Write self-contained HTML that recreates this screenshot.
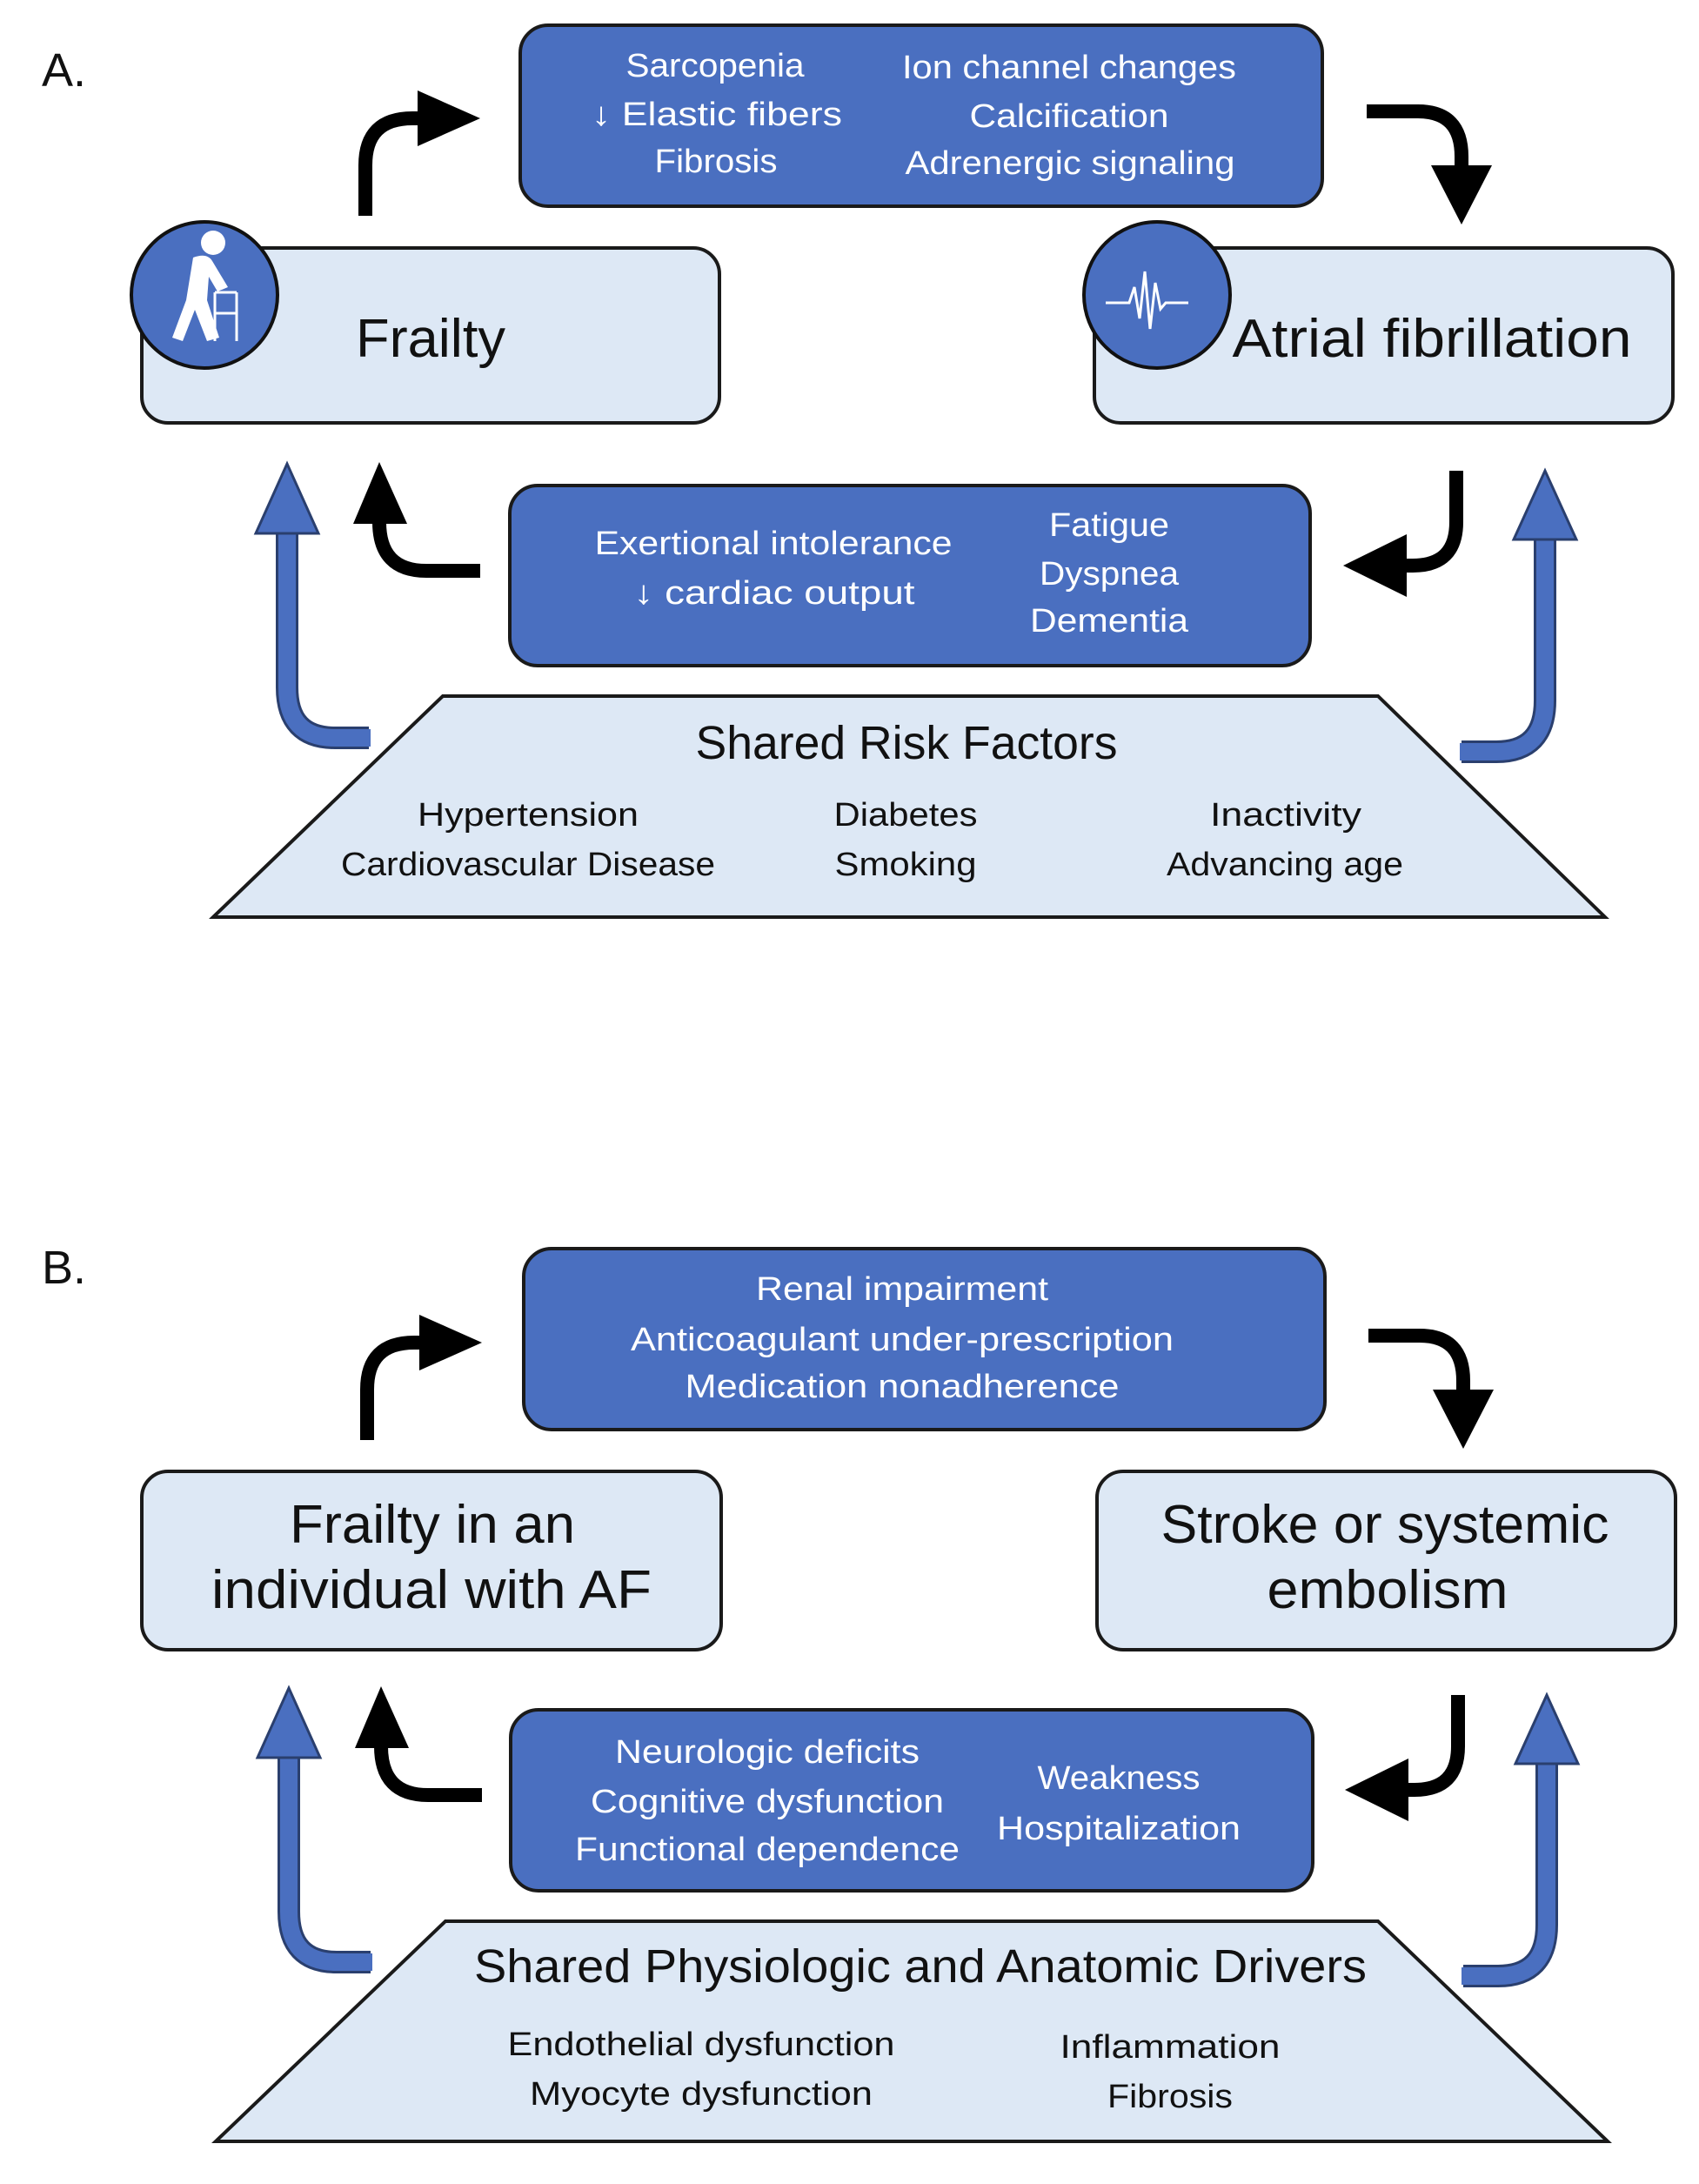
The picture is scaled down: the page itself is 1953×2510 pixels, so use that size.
<!DOCTYPE html>
<html><head><meta charset="utf-8"><style>
html,body{margin:0;padding:0;background:#fff;}
svg{display:block;}
text{font-family:"Liberation Sans",sans-serif;}
.w{fill:#fff;font-size:38px;}
.k{fill:#111;font-size:38px;}
.big{fill:#111;font-size:62px;}
</style></head><body>
<svg width="1953" height="2510" viewBox="0 0 1953 2510" xmlns="http://www.w3.org/2000/svg">
<defs>
<g id="arrows">
  <!-- top-left black -->
  <path d="M420 248 V190 Q420 136 474 136 H486" fill="none" stroke="#000" stroke-width="16"/>
  <polygon points="480,104 480,168 552,136" fill="#000"/>
  <!-- top-right black -->
  <path d="M1571 128 H1630 Q1680 128 1680 180 V195" fill="none" stroke="#000" stroke-width="16"/>
  <polygon points="1645,190 1715,190 1680,258" fill="#000"/>
  <!-- middle-left black -->
  <path d="M552 656 H490 Q436 656 436 600 V595" fill="none" stroke="#000" stroke-width="16"/>
  <polygon points="406,602 468,602 436,531" fill="#000"/>
  <!-- middle-right black -->
  <path d="M1674 541 V600 Q1674 650 1624 650 H1612" fill="none" stroke="#000" stroke-width="16"/>
  <polygon points="1617,614 1617,686 1544,650" fill="#000"/>
  <!-- left blue -->
  <path d="M424 848 H385 Q330 848 330 790 V608" fill="none" stroke="#2a3f6e" stroke-width="26"/>
  <path d="M426 848 H385 Q330 848 330 790 V606" fill="none" stroke="#4a6fc0" stroke-width="20"/>
  <polygon points="294,613 366,613 330,533" fill="#4a6fc0" stroke="#2a3f6e" stroke-width="3"/>
  <!-- right blue -->
  <path d="M1680 864 H1720 Q1776 864 1776 805 V618" fill="none" stroke="#2a3f6e" stroke-width="26"/>
  <path d="M1678 864 H1720 Q1776 864 1776 805 V616" fill="none" stroke="#4a6fc0" stroke-width="20"/>
  <polygon points="1740,620 1812,620 1776,541" fill="#4a6fc0" stroke="#2a3f6e" stroke-width="3"/>
</g>
</defs>

<!-- ============ PANEL A ============ -->
<text x="48" y="99" style="font-size:54px;fill:#111">A.</text>
<rect x="598" y="29" width="922" height="208" rx="32" fill="#4a6fc0" stroke="#1a1a1a" stroke-width="4"/>
<text class="w" x="822" y="88" text-anchor="middle" textLength="205" lengthAdjust="spacingAndGlyphs">Sarcopenia</text>
<text class="w" x="824" y="144" text-anchor="middle" textLength="288" lengthAdjust="spacingAndGlyphs">↓ Elastic fibers</text>
<text class="w" x="823" y="198" text-anchor="middle" textLength="141" lengthAdjust="spacingAndGlyphs">Fibrosis</text>
<text class="w" x="1229" y="90" text-anchor="middle" textLength="384" lengthAdjust="spacingAndGlyphs">Ion channel changes</text>
<text class="w" x="1229" y="146" text-anchor="middle" textLength="229" lengthAdjust="spacingAndGlyphs">Calcification</text>
<text class="w" x="1230" y="200" text-anchor="middle" textLength="379" lengthAdjust="spacingAndGlyphs">Adrenergic signaling</text>

<rect x="163" y="285" width="664" height="201" rx="30" fill="#dde8f5" stroke="#1a1a1a" stroke-width="4"/>
<text class="big" x="495" y="410" text-anchor="middle" textLength="172" lengthAdjust="spacingAndGlyphs">Frailty</text>
<circle cx="235" cy="339" r="84" fill="#4a6fc0" stroke="#111" stroke-width="4"/>
<!-- walker icon -->
<g fill="#fff" stroke="#fff">
  <circle cx="245" cy="279" r="14" stroke="none"/>
  <path d="M222 296 Q238 290 244 300 L262 330 L250 335 L240 318 L238 345 L252 388 L238 392 L224 356 L210 392 L198 388 L214 345 Z" stroke="none"/>
  <path d="M247 336 H272 M247 336 V392 M272 336 V392 M247 360 H272" fill="none" stroke-width="3"/>
</g>

<rect x="1258" y="285" width="665" height="201" rx="30" fill="#dde8f5" stroke="#1a1a1a" stroke-width="4"/>
<circle cx="1330" cy="339" r="84" fill="#4a6fc0" stroke="#111" stroke-width="4"/>
<polyline points="1271,348 1298,348 1304,330 1310,366 1316,312 1322,378 1328,325 1334,355 1340,348 1366,348" fill="none" stroke="#fff" stroke-width="3"/>
<text class="big" x="1646" y="410" text-anchor="middle" textLength="459" lengthAdjust="spacingAndGlyphs">Atrial fibrillation</text>

<rect x="586" y="558" width="920" height="207" rx="32" fill="#4a6fc0" stroke="#1a1a1a" stroke-width="4"/>
<text class="w" x="889" y="637" text-anchor="middle" textLength="411" lengthAdjust="spacingAndGlyphs">Exertional intolerance</text>
<text class="w" x="890" y="694" text-anchor="middle" textLength="323" lengthAdjust="spacingAndGlyphs">↓ cardiac output</text>
<text class="w" x="1275" y="616" text-anchor="middle" textLength="138" lengthAdjust="spacingAndGlyphs">Fatigue</text>
<text class="w" x="1275" y="672" text-anchor="middle" textLength="160" lengthAdjust="spacingAndGlyphs">Dyspnea</text>
<text class="w" x="1275" y="726" text-anchor="middle" textLength="182" lengthAdjust="spacingAndGlyphs">Dementia</text>

<polygon points="509,800 1584,800 1845,1054 245,1054" fill="#dde8f5" stroke="#1a1a1a" stroke-width="4"/>
<text class="k" style="font-size:54px" x="1042" y="872" text-anchor="middle" textLength="485" lengthAdjust="spacingAndGlyphs">Shared Risk Factors</text>
<text class="k" x="607" y="949" text-anchor="middle" textLength="254" lengthAdjust="spacingAndGlyphs">Hypertension</text>
<text class="k" x="607" y="1006" text-anchor="middle" textLength="430" lengthAdjust="spacingAndGlyphs">Cardiovascular Disease</text>
<text class="k" x="1041" y="949" text-anchor="middle" textLength="165" lengthAdjust="spacingAndGlyphs">Diabetes</text>
<text class="k" x="1041" y="1006" text-anchor="middle" textLength="163" lengthAdjust="spacingAndGlyphs">Smoking</text>
<text class="k" x="1478" y="949" text-anchor="middle" textLength="174" lengthAdjust="spacingAndGlyphs">Inactivity</text>
<text class="k" x="1477" y="1006" text-anchor="middle" textLength="272" lengthAdjust="spacingAndGlyphs">Advancing age</text>

<use href="#arrows"/>

<!-- ============ PANEL B ============ -->
<text x="48" y="1475" style="font-size:54px;fill:#111">B.</text>
<rect x="602" y="1435" width="921" height="208" rx="32" fill="#4a6fc0" stroke="#1a1a1a" stroke-width="4"/>
<text class="w" x="1037" y="1494" text-anchor="middle" textLength="336" lengthAdjust="spacingAndGlyphs">Renal impairment</text>
<text class="w" x="1037" y="1552" text-anchor="middle" textLength="624" lengthAdjust="spacingAndGlyphs">Anticoagulant under-prescription</text>
<text class="w" x="1037" y="1606" text-anchor="middle" textLength="499" lengthAdjust="spacingAndGlyphs">Medication nonadherence</text>

<rect x="163" y="1691" width="666" height="205" rx="30" fill="#dde8f5" stroke="#1a1a1a" stroke-width="4"/>
<text class="big" x="497" y="1773" text-anchor="middle" textLength="328" lengthAdjust="spacingAndGlyphs">Frailty in an</text>
<text class="big" x="496" y="1848" text-anchor="middle" textLength="506" lengthAdjust="spacingAndGlyphs">individual with AF</text>

<rect x="1261" y="1691" width="665" height="205" rx="30" fill="#dde8f5" stroke="#1a1a1a" stroke-width="4"/>
<text class="big" x="1592" y="1773" text-anchor="middle" textLength="515" lengthAdjust="spacingAndGlyphs">Stroke or systemic</text>
<text class="big" x="1595" y="1848" text-anchor="middle" textLength="277" lengthAdjust="spacingAndGlyphs">embolism</text>

<rect x="587" y="1965" width="922" height="208" rx="32" fill="#4a6fc0" stroke="#1a1a1a" stroke-width="4"/>
<text class="w" x="882" y="2026" text-anchor="middle" textLength="350" lengthAdjust="spacingAndGlyphs">Neurologic deficits</text>
<text class="w" x="882" y="2083" text-anchor="middle" textLength="406" lengthAdjust="spacingAndGlyphs">Cognitive dysfunction</text>
<text class="w" x="882" y="2138" text-anchor="middle" textLength="442" lengthAdjust="spacingAndGlyphs">Functional dependence</text>
<text class="w" x="1286" y="2056" text-anchor="middle" textLength="187" lengthAdjust="spacingAndGlyphs">Weakness</text>
<text class="w" x="1286" y="2114" text-anchor="middle" textLength="280" lengthAdjust="spacingAndGlyphs">Hospitalization</text>

<polygon points="512,2208 1584,2208 1848,2461 248,2461" fill="#dde8f5" stroke="#1a1a1a" stroke-width="4"/>
<text class="k" style="font-size:54px" x="1058" y="2278" text-anchor="middle" textLength="1026" lengthAdjust="spacingAndGlyphs">Shared Physiologic and Anatomic Drivers</text>
<text class="k" x="806" y="2362" text-anchor="middle" textLength="445" lengthAdjust="spacingAndGlyphs">Endothelial dysfunction</text>
<text class="k" x="806" y="2419" text-anchor="middle" textLength="394" lengthAdjust="spacingAndGlyphs">Myocyte dysfunction</text>
<text class="k" x="1345" y="2365" text-anchor="middle" textLength="253" lengthAdjust="spacingAndGlyphs">Inflammation</text>
<text class="k" x="1345" y="2422" text-anchor="middle" textLength="144" lengthAdjust="spacingAndGlyphs">Fibrosis</text>

<use href="#arrows" transform="translate(2,1407)"/>
</svg>
</body></html>
